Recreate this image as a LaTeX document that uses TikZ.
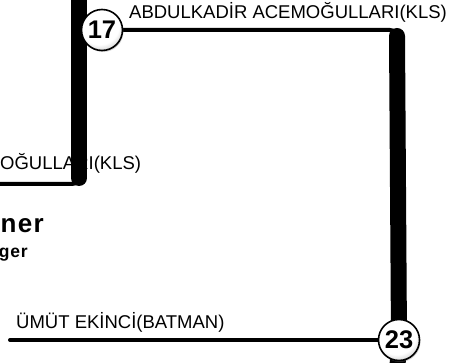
\documentclass[tikz,border=0pt]{standalone}
\usepackage{fontspec}
\setmainfont{Liberation Sans}
\newfontfamily\spacedfont[LetterSpace=5]{Liberation Sans}
\usetikzlibrary{shadows}
\pgfdeclarelayer{linelayer}
\pgfsetlayers{linelayer,main}
\pgfdeclareradialshading{ballish}{\pgfpoint{-6bp}{12bp}}{%
  color(0bp)=(white); color(24bp)=(white); color(36bp)=(black!30); color(50bp)=(black!55)}
\tikzset{
  thinline/.style={line width=4pt, line cap=round, rounded corners=7pt},
  thickline/.style={line width=16pt, line cap=round},
  numball/.style={circle, draw=black, line width=1.6pt, minimum size=41pt, inner sep=0pt,
    shading=ballish, drop shadow={shadow xshift=1pt, shadow yshift=-1.5pt, opacity=0.35},
    font=\fontsize{25.5}{25.5}\selectfont\bfseries},
  lbl/.style={inner sep=0pt, font=\fontsize{18.5}{18.5}\selectfont}
}
\begin{document}
\begin{tikzpicture}[x=1pt, y=-1pt]
\useasboundingbox (0,0) rectangle (457,363);
\begin{pgfonlayer}{linelayer}
\fill[white] (0,0) rectangle (457,363);
% texts
\node[lbl, anchor=base west] (tA) at (129,19) {ABDULKADİR ACEMOĞULLARI(KLS)};
\node[lbl, anchor=base west] (tB) at (0,170) {OĞULLARI(KLS)};
\node[lbl, anchor=base west] (tC) at (16,328) {ÜMÜT EKİNCİ(BATMAN)};
\node[inner sep=0pt, anchor=base east, font=\fontsize{26}{26}\selectfont\spacedfont\bfseries] (tW) at (44,232) {ner};
\node[inner sep=0pt, anchor=base east, font=\fontsize{17.5}{17.5}\selectfont\spacedfont\bfseries] (tL) at (28,257) {ger};
\end{pgfonlayer}
% balls
\node[numball] (c17) at (102,30) {17};
\node[numball] (c23) at (399,340) {23};
% coordinates
\coordinate (a0) at (0,184);
\coordinate (a1) at (79,184);
\coordinate (a2) at (79,150);
\coordinate (a3) at (79,-10);
\coordinate (a4) at (79,178);
\coordinate (b1) at (397,30);
\coordinate (b2) at (397,70);
\coordinate (b3) at (397,36);
\coordinate (b4) at (397,375);
\coordinate (c0) at (10,340);
% lines
\begin{pgfonlayer}{linelayer}
\draw[thinline] (a0) -- (a1) -- (a2);
\draw[thickline] (a3) -- (a4);
\draw[thinline] (c17.east) -- (b1) -- (b2);
\draw[thickline] (b3) -- (c23.center);
\draw[thickline] (c23.center) -- (b4);
\draw[line width=4pt, line cap=round] (c0) -- (c23.center);
\end{pgfonlayer}
\end{tikzpicture}
\end{document}
